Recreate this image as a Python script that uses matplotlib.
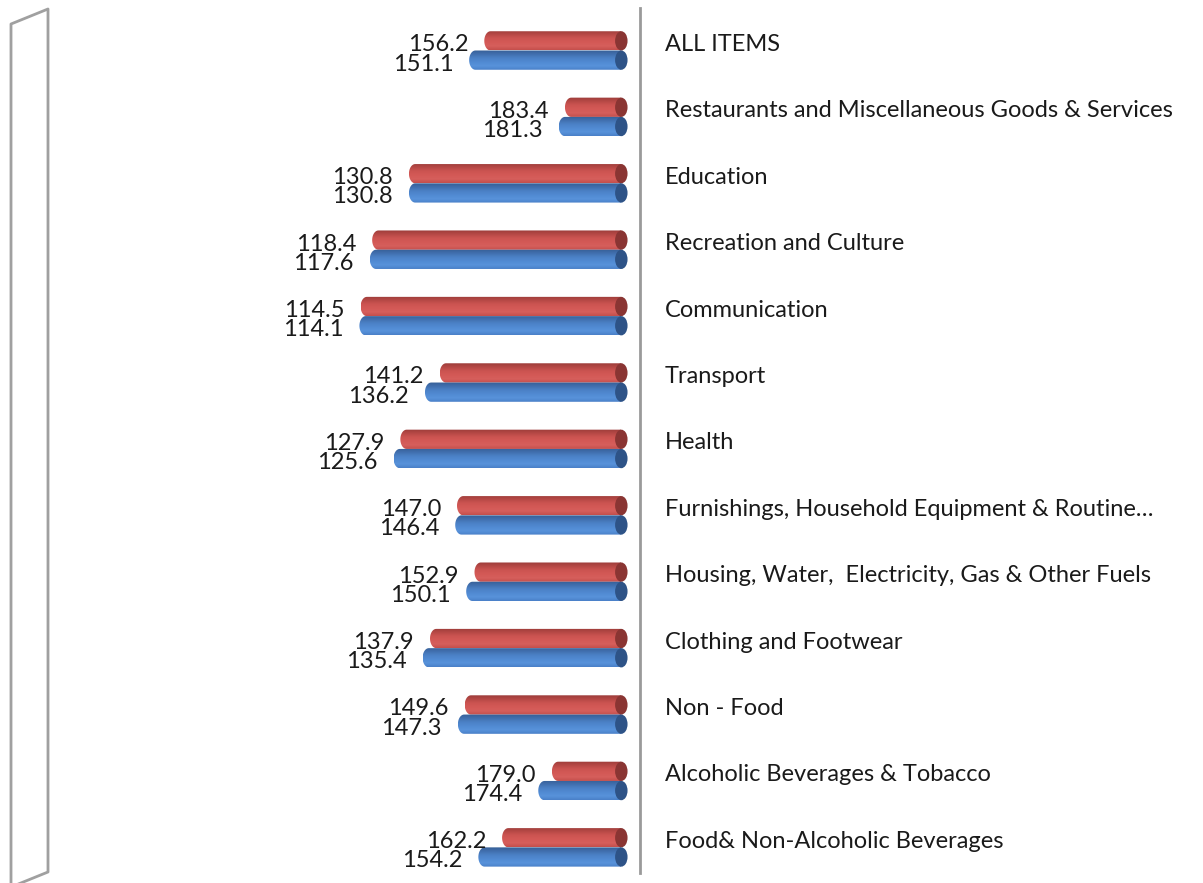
import matplotlib
matplotlib.use("Agg")
import matplotlib.pyplot as plt
from matplotlib.colors import LinearSegmentedColormap
from matplotlib.patches import Polygon, Ellipse
from matplotlib.transforms import offset_copy
from matplotlib.lines import Line2D
import numpy as np

# categories from bottom to top
categories = [
    "Food& Non-Alcoholic Beverages",
    "Alcoholic Beverages & Tobacco",
    "Non - Food",
    "Clothing and Footwear",
    "Housing, Water,  Electricity, Gas & Other Fuels",
    "Furnishings, Household Equipment & Routine\u2026",
    "Health",
    "Transport",
    "Communication",
    "Recreation and Culture",
    "Education",
    "Restaurants and Miscellaneous Goods & Services",
    "ALL ITEMS",
]
blue_vals = [154.2, 174.4, 147.3, 135.4, 150.1, 146.4, 125.6, 136.2, 114.1, 117.6, 130.8, 181.3, 151.1]
red_vals = [162.2, 179.0, 149.6, 137.9, 152.9, 147.0, 127.9, 141.2, 114.5, 118.4, 130.8, 183.4, 156.2]

BASE = 202.4      # where the bars start (cap centre), axis reads right to left
XMAX = 208.7
CAP = 2.1         # half width of the end caps, data units
BAR_H = 0.29
OFF = 0.145

plt.rcParams['font.family'] = ['Lato', 'DejaVu Sans']

W, H = 1203, 883
fig = plt.figure(figsize=(W / 100, H / 100), dpi=100)
ax = fig.add_axes([21 / W, 1 - 873 / H, (640 - 21) / W, (873 - 8) / H])

red_cm = LinearSegmentedColormap.from_list(
    "r", ["#c44f4c", "#d65f5c", "#d35956", "#cc5451", "#b64845", "#9c3c3a"])
blue_cm = LinearSegmentedColormap.from_list(
    "b", ["#4a80c8", "#5893db", "#518ad2", "#4b81c6", "#416fae", "#355f96"])
grad = np.linspace(0, 1, 64).reshape(-1, 1)


def cylinder(v, yc, cmap, cap_col):
    y0, y1 = yc - BAR_H / 2, yc + BAR_H / 2
    t = np.linspace(np.pi / 2, 3 * np.pi / 2, 30)
    left = v + CAP
    pts = [(left + CAP * np.cos(a), yc + BAR_H / 2 * np.sin(a)) for a in t]
    pts += [(BASE, y0), (BASE, y1)]
    body = Polygon(pts, closed=True, facecolor="none", edgecolor="none")
    ax.add_patch(body)
    im = ax.imshow(grad, cmap=cmap, extent=(v, BASE, y1, y0),
                   aspect="auto", interpolation="bilinear", zorder=2)
    im.set_clip_path(body)
    ax.add_patch(Ellipse((BASE, yc), 2 * CAP, BAR_H, facecolor=cap_col,
                         edgecolor="none", zorder=3))


ys = np.arange(len(categories))
for i, y in enumerate(ys):
    cylinder(red_vals[i], y + OFF, red_cm, "#8a3533")
    cylinder(blue_vals[i], y - OFF, blue_cm, "#2e5387")

lab_r = offset_copy(ax.transData, fig=fig, x=-16, y=-4, units="dots")
for i, y in enumerate(ys):
    ax.text(red_vals[i], y + OFF, f"{red_vals[i]:.1f}", transform=lab_r,
            ha="right", va="center", fontsize=17, color="#1a1a1a")
    ax.text(blue_vals[i], y - OFF, f"{blue_vals[i]:.1f}", transform=lab_r,
            ha="right", va="center", fontsize=17, color="#1a1a1a")

cat_tr = offset_copy(ax.get_yaxis_transform(), fig=fig, x=25, y=6, units="dots")
for i, y in enumerate(ys):
    ax.text(1, y, categories[i], transform=cat_tr, ha="left", va="center",
            fontsize=17, color="#1a1a1a")

ax.set_xlim(0, XMAX)
ax.set_ylim(-0.386, 12.64)
for s in ["top", "bottom", "left"]:
    ax.spines[s].set_visible(False)
ax.spines["right"].set_color("#9a9a9a")
ax.spines["right"].set_linewidth(2)
ax.set_xticks([])
ax.set_yticks([])

# side wall of the 3d chart
wall_x = [11, 11, 48, 48, 11]
wall_y = [887, 24, 9, 872, 887]
fig.add_artist(Line2D([x / W for x in wall_x], [1 - y / H for y in wall_y],
                      color="#a0a0a0", lw=2, transform=fig.transFigure))

fig.savefig("out.png", dpi=100)
